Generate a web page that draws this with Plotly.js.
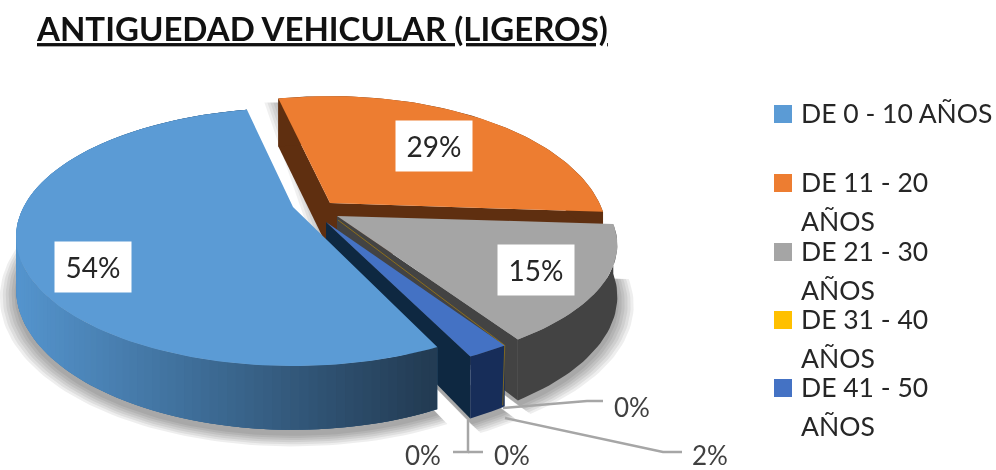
<!DOCTYPE html>
<html><head><meta charset="utf-8">
<script src="https://cdn.plot.ly/plotly-3.0.1.min.js"></script>
<style>html,body{margin:0;padding:0;background:#fff}#c{width:996px;height:470px;filter:blur(0.45px)}</style>
</head><body><div id="c"></div>
<script>
// ---- data
const categories = ["DE 0 - 10 AÑOS","DE 11 - 20 AÑOS","DE 21 - 30 AÑOS","DE 31 - 40 AÑOS","DE 41 - 50 AÑOS"];
const values = [54,29,15,0,2];
const unnamedValues = [0,0];
const titleText = "ANTIGUEDAD VEHICULAR (LIGEROS)";

// ---- styles
const topColors  = ["#5B9BD5","#ED7D31","#A5A5A5","#FFC000","#4472C4"];
const sideColors = [null,"#5F2F10","#434343","#7A5C00","#172D59"];
const cutColors  = [null,"#5F2F10","#434343","#7A5C00","#0E2841"];
const FONT = "Lato, Carlito, Calibri, sans-serif";

// ---- 3D projection of the pie plane, with each slice's explosion
const firstAngle = 155, A = 269.4, B = 122, K = 0.2326, D = 49;
const tips   = [[293,207],[330,203],[337,216],[330,219],[326,222]];
const aScale = [1,1,1.012,1,1];
const bScale = [1,1.08,0.96,0.96,0.96];
const startNudge = [0,-3,0,0,0];
const endNudge   = [-1.5,0,0,0,0];
const rad = d => d*Math.PI/180;
function wOf(phi,r){return 1+K*r*Math.cos(rad(phi));}
function proj(i,phi,r){
  const t=tips[i], u=r*Math.sin(rad(phi)), v=-r*Math.cos(rad(phi)), w=wOf(phi,r);
  return [t[0]+aScale[i]*A*u/w, t[1]+bScale[i]*B*v/w];
}
function rimDrop(i,phi){return i===1 ? 48 : D/wOf(phi,1);}
function arc(i,a0,a1,r,drop){
  const n=Math.max(2,Math.ceil(Math.abs(a1-a0)/1.5)), p=[];
  for(let k=0;k<=n;k++){
    const phi=a0+(a1-a0)*k/n, q=proj(i,phi,r);
    p.push([q[0],q[1]+(drop?rimDrop(i,phi)+(drop===2?5:0):0)]);
  }
  return p;
}
const traces=[];
function poly(pts,color){
  traces.push({type:"scatter",mode:"lines",x:pts.map(p=>p[0]),y:pts.map(p=>p[1]),
    fill:"toself",fillcolor:color,line:{width:0,color:color},hoverinfo:"skip",showlegend:false});
}
// slice angles from the values
const total = values.concat(unnamedValues).reduce((a,b)=>a+b,0);
let acc = firstAngle;
const slices = values.map((v,i)=>{
  const s={a0:acc+startNudge[i],a1:acc+v/total*360+endNudge[i]};acc+=v/total*360;return s;});

// soft shadows
[2,0,4].forEach(i=>{
  const s=slices[i],t=tips[i];
  [0.055,0.045,0.035,0.025,0.015,0.005].forEach(g=>{
    poly([[t[0],t[1]+D+5]].concat(arc(i,s.a0,s.a1,1+g,2)),"rgba(0,0,0,0.065)");
  });
});
[14,11,8,5,2].forEach(g=>{
  const a=proj(1,slices[1].a0,1), t=tips[1];
  poly([[t[0]-g,t[1]+D],[a[0]-g,a[1]+4],[a[0],a[1]+4],[t[0],t[1]]],"rgba(0,0,0,0.06)");
});
function lerp(c0,c1,f){f=Math.max(0,Math.min(1,f));return "rgb("+c0.map((c,j)=>Math.round(c+(c1[j]-c)*f)).join(",")+")";}
function cutFace(i,phi,col){const t=tips[i],e=proj(i,phi,1),d=rimDrop(i,phi);poly([t,e,[e[0],e[1]+d],[t[0],t[1]+D]],col);}
function drawSlice(i){
  const s=slices[i],t=tips[i];
  if(i===1){cutFace(i,s.a0,cutColors[i]);cutFace(i,s.a1,cutColors[i]);}
  if(i===2||i===4){cutFace(i,s.a1,cutColors[i]);}
  if(i===0){
    // outer rim, shaded from left to right
    const top=arc(i,s.a0,s.a1,1,0), bot=arc(i,s.a0,s.a1,1,1);
    const L=[84,148,205],R=[35,60,84];
    poly(top.concat(bot.slice().reverse()),lerp(R,L,0.5));
    for(let j=0;j<top.length-1;j++){
      // each strip overlaps the next one so no seams show between them
      const e=Math.min(j+2,top.length-1), f=(430-top[j][0])/410;
      poly([top[j],top[e],bot[e],bot[j]],lerp(R,L,f));
    }
  } else {
    const top=arc(i,s.a0,s.a1,1,0), bot=arc(i,s.a0,s.a1,1,1).reverse();
    poly(top.concat(bot),sideColors[i]);
  }
  poly([t].concat(arc(i,s.a0,s.a1,1,0)).concat([t]),topColors[i]);
}
drawSlice(1);drawSlice(2);drawSlice(4);
// the zero-width slice shows as a hairline
(function(){const s=slices[3],e=proj(4,s.a0,1);
  traces.push({type:"scatter",mode:"lines",x:[tips[3][0]+8,e[0],e[0]-2],y:[tips[3][1]+1,e[1],e[1]+60],
    line:{width:1,color:"rgba(190,140,0,0.6)"},hoverinfo:"skip",showlegend:false});})();
drawSlice(0);

// ---- labels
const ann=[];
const inside=[[93,267],[434,146],[536,270]];
inside.forEach((c,i)=>ann.push({xref:"x",yref:"y",x:c[0],y:c[1],text:values[i]+"%",showarrow:false,
  width:74,height:48,bgcolor:"#fff",font:{family:FONT,size:28,color:"#262626"},xanchor:"center",yanchor:"middle"}));
const outsideTexts=[values[3]+"%",values[4]+"%",unnamedValues[0]+"%",unnamedValues[1]+"%"];
[[632,407],[710,454.5],[423,454.5],[512,454.5]].forEach((c,i)=>ann.push({xref:"x",yref:"y",x:c[0],y:c[1],text:outsideTexts[i],
  showarrow:false,font:{family:FONT,size:26,color:"#404040"},xanchor:"center",yanchor:"middle"}));

// leader lines
const shapes=[];
["M503,408 L587,401 L603,401","M505,418 L663,452 L682,452","M468,420 L468,452 L453,452","M468,452 L483,452"]
 .forEach(p=>shapes.push({type:"path",xref:"x",yref:"y",path:p,line:{color:"#A6A6A6",width:2.5}}));

// ---- legend
const rowY=[113,182,251,319,387], lineGap=39;
categories.forEach((c,i)=>{
  shapes.push({type:"rect",xref:"x",yref:"y",x0:774,x1:792,y0:rowY[i]-8,y1:rowY[i]+10,fillcolor:topColors[i],line:{width:0}});
  const lines=i===0?[c]:[c.replace(" AÑOS",""),"AÑOS"];
  lines.forEach((l,j)=>ann.push({xref:"x",yref:"y",x:799,y:rowY[i]+j*lineGap,text:l,showarrow:false,xanchor:"left",yanchor:"middle",
    font:{family:FONT,size:26.5,color:"#262626"}}));
});

Plotly.newPlot("c",traces,{
  width:996,height:470,margin:{l:0,r:0,t:0,b:0},paper_bgcolor:"#fff",plot_bgcolor:"#fff",showlegend:false,
  xaxis:{range:[0,996],visible:false,fixedrange:true},
  yaxis:{range:[470,0],visible:false,fixedrange:true},
  title:{text:titleText,x:37/996,xanchor:"left",xref:"container",y:1-29.5/470,yref:"container",yanchor:"middle",
    font:{family:FONT,size:33,weight:700,color:"#111",lineposition:"under"}},
  annotations:ann,shapes:shapes
},{displayModeBar:false,staticPlot:true});
</script></body></html>
